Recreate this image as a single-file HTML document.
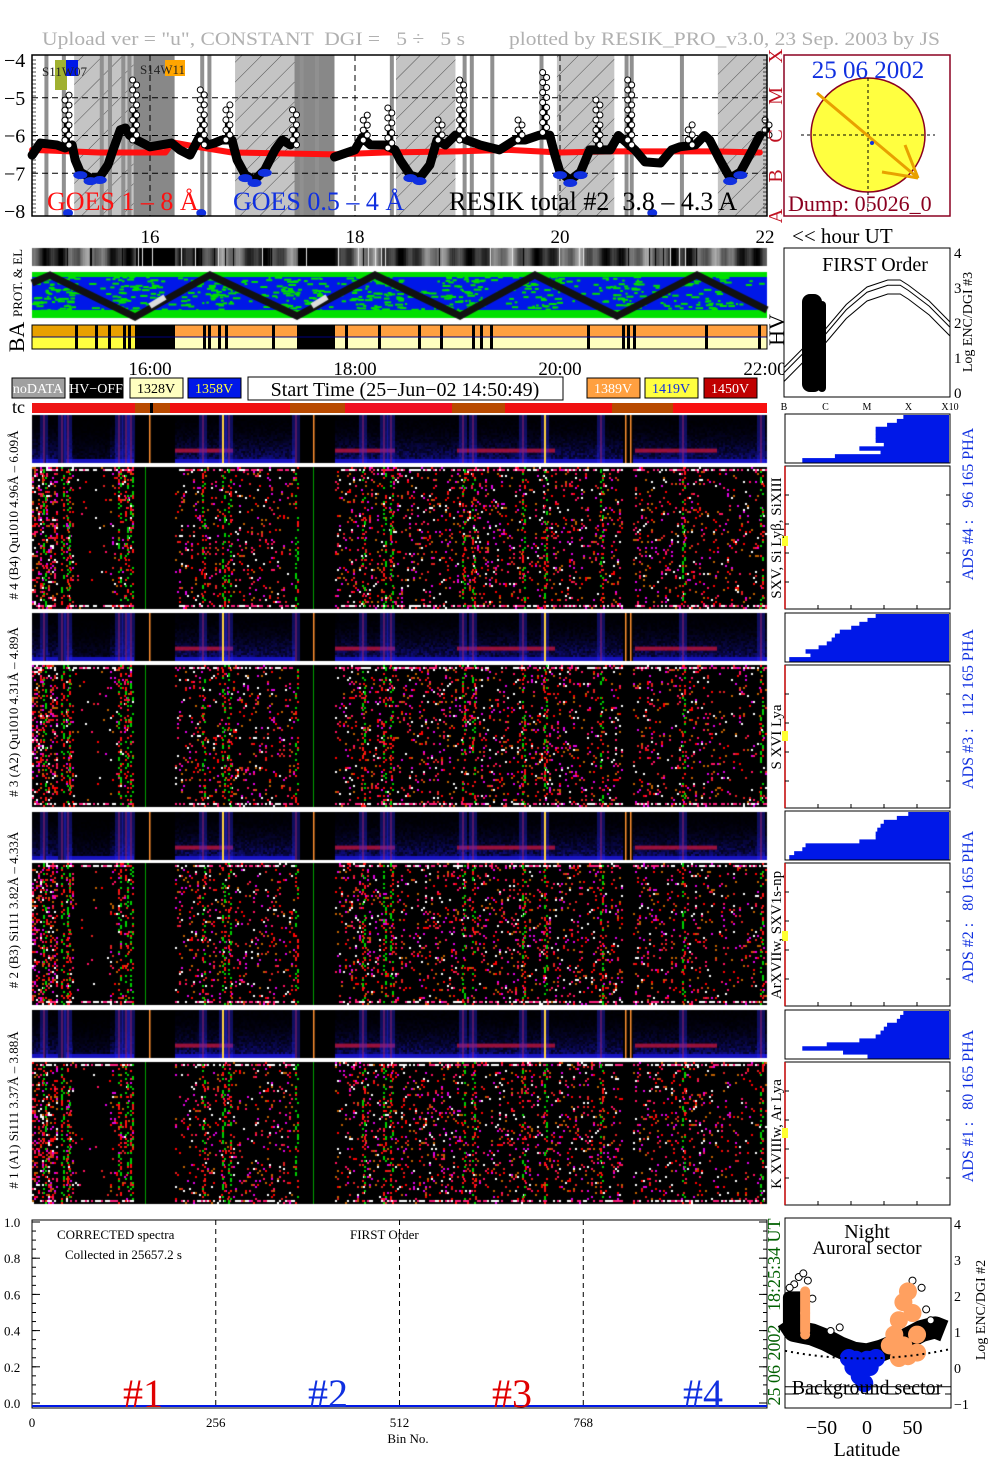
<!DOCTYPE html>
<html><head><meta charset="utf-8">
<style>
html,body{margin:0;padding:0;background:#fff;}
#wrap{position:relative;width:1004px;height:1477px;overflow:hidden;font-family:"Liberation Serif",serif;}
canvas,svg{position:absolute;left:0;top:0;}
svg text{white-space:pre;}
</style></head>
<body>
<div id="wrap">
<canvas id="cv" width="1004" height="1477"></canvas>
<svg id="sv" width="1004" height="1477" xmlns="http://www.w3.org/2000/svg" font-family="Liberation Serif, serif"></svg>
</div>
<script>
// ---------- DATA ----------
const resikTimes=[14.85,14.93,15.09,15.17,15.19,15.24,15.27,15.32,15.42,15.51,15.59,15.64,15.71,15.76,15.80,15.85,15.87,16.0,16.21,16.29,16.39,16.49,16.51,16.56,16.63,16.70,16.76,16.80,16.85,16.93,17.02,17.12,17.22,17.29,17.37,17.41];
const resikVals=[-6.52,-6.20,-6.25,-6.33,-4.93,-6.25,-6.65,-6.97,-7.13,-7.10,-6.78,-6.38,-5.85,-5.80,-5.99,-4.53,-6.12,-6.30,-6.20,-6.38,-6.52,-6.0,-4.79,-6.25,-6.20,-6.12,-5.19,-6.12,-6.65,-7.05,-7.18,-6.91,-6.38,-6.12,-6.25,-5.32];
const resikTimes2=[17.80,18.0,18.07,18.10,18.15,18.29,18.34,18.39,18.44,18.54,18.63,18.73,18.80,18.83,18.88,18.98,19.04,19.09,19.22,19.41,19.56,19.61,19.66,19.80,19.85,19.90,19.95,20.0,20.10,20.20,20.29,20.37,20.41,20.49,20.57,20.68,20.73,20.83,20.98,21.09,21.17,21.27,21.32,21.41,21.46,21.56,21.66,21.76,21.85,21.95,22.02];
const resikVals2=[-6.57,-6.38,-6.05,-5.46,-6.25,-6.25,-5.27,-6.38,-6.65,-7.05,-7.13,-6.78,-6.12,-5.59,-6.25,-5.99,-4.53,-6.12,-6.25,-6.38,-6.12,-5.59,-6.12,-5.99,-4.33,-5.99,-6.52,-6.97,-7.18,-6.97,-6.38,-5.06,-6.38,-6.38,-6.0,-4.53,-6.38,-6.70,-6.73,-6.38,-6.30,-5.72,-6.25,-6.0,-6.12,-6.65,-7.13,-6.97,-6.52,-6.0,-5.59];
const goesTimes=[14.85,15.5,16.15,16.22,16.5,16.8,17.8,18.3,19.0,19.5,20.0,20.5,21.0,21.5,21.95];
const goesVals=[-6.38,-6.45,-6.45,-6.18,-6.32,-6.45,-6.5,-6.45,-6.42,-6.38,-6.45,-6.42,-6.42,-6.42,-6.45];
const hatchStart=[15.26,16.83,18.40,19.97,21.54];
const hatchEnd=[15.84,17.41,18.98,20.53,22.02];
const darkStart=[15.84,17.41];
const darkEnd=[16.24,17.80];
const stripTimes=[14.97,15.14,15.51,15.59,15.72,15.78,16.49,16.56,17.46,17.61,18.34,19.05,19.12,19.32,19.80,20.63,20.68,21.17];
const hourTicks=[16,18,20,22];
const logTicks=[-4,-5,-6,-7,-8];
const classLetters=['A','B','C','M','X'];
const foU=[0,0.5,1,1.5,2,2.5,2.8,3,3.5,4];
const foTop=[0.7,1.3,1.8,2.5,3.0,3.2,3.2,3.05,2.6,2.0];
const foOffsets=[0,-0.15,-0.4];
const pha4=[0.72,0.68,0.62,0.55,0.55,0.55,0.55,0.6,0.45,0.58,0.3,0.1];
const pha3=[0.55,0.5,0.45,0.4,0.33,0.3,0.28,0.25,0.2,0.12,0.15,0.02];
const pha2=[0.75,0.68,0.6,0.58,0.56,0.55,0.55,0.45,0.12,0.1,0.05,0.02];
const pha1=[0.72,0.7,0.68,0.62,0.6,0.58,0.55,0.45,0.25,0.1,0.35,0.5];
const latBlack=[-88,-80,-70,-60,-45,-30,-15,0,15,30,45,60,75,85];
const valBlack=[1.3,1.0,0.95,0.9,0.75,0.55,0.4,0.35,0.45,0.6,0.8,1.0,1.1,1.0];
const latBlue=[-20,-12,-5,0,5,10,-8,-3,-15,3];
const valBlue=[0.25,0.2,0.15,0.2,0.2,0.25,-0.25,-0.45,0.0,0.0];
const latOrange=[-68,-68,-68,25,30,35,40,45,50,55,35,45,55,40];
const valOrange=[2.1,1.5,0.9,0.6,0.9,1.3,1.8,2.1,1.5,0.9,0.25,0.3,0.4,0.6];
const binTicks=[0,256,512,768];
const yTicksSpec=[0,0.2,0.4,0.6,0.8,1.0];

// ---------- helpers ----------
const NS='http://www.w3.org/2000/svg';
const sv=document.getElementById('sv');
function el(tag,attrs,parent,text){const e=document.createElementNS(NS,tag);for(const k in attrs)e.setAttribute(k,attrs[k]);if(text!==undefined)e.textContent=text;(parent||sv).appendChild(e);return e;}
const tx=t=>150+(t-16)*102.5;
const gy=v=>60+(-4-v)*37.75;

// ---------- canvas textures ----------
const cv=document.getElementById('cv');const c=cv.getContext('2d');
let seed=12345;function rnd(){seed=(seed*1103515245+12345)&0x7fffffff;return seed/0x7fffffff;}
const activeRanges=[[32,43,0.3],[46,57,0.3],[66,73,0.18],[73,110,0.015],[110,133,0.1],[175,295,0.09],[335,622,0.11],[633,705,0.1],[705,767,0.07]];
const stripeX=[43,61,67,118,125,130,202,222,228,295,362,383,390,462,472,522,544,600,682,760];
const orangeX=[149,313,625,630];
const redBarRanges=[[175,233],[335,395],[457,555],[635,717]];
function smallPanel(y0,h){
  c.fillStyle='#000';c.fillRect(32,y0,735,h);
  for(const r of activeRanges){
    for(let x=r[0];x<r[1];x+=2){
      for(let y=0;y<h;y+=2){
        const f=y/h;let b=(0.03+0.55*Math.pow(f,2.2))*(0.3+rnd()*0.9)*(r[2]>0.02?1:0.4);
        if(f>0.88)b=0.75;
        c.fillStyle=`rgb(${Math.floor(b*30)},${Math.floor(b*25)},${Math.floor(Math.min(1,b)*255)})`;
        c.fillRect(x,y0+y,2,2);
      }
    }
  }
  for(const r of redBarRanges){c.fillStyle='rgba(190,20,60,0.8)';c.fillRect(r[0],y0+h*0.7,r[1]-r[0],4);}
  for(const x of stripeX){c.fillStyle='rgba(200,30,30,0.55)';c.fillRect(x,y0,2,h);c.fillStyle='rgba(40,40,255,0.35)';c.fillRect(x-3,y0,8,h);}
  for(const x of orangeX){c.fillStyle='#ff9030';c.fillRect(x,y0,1.5,h);}
  c.fillStyle='#ffd040';c.fillRect(222,y0,2,h);c.fillRect(544,y0,2,h);
}
const dotCols=['#ff0000','#ff1060','#e000e0','#ffffff','#e02020','#c06000','#00d000'];
function bigPanel(y0,h){
  c.fillStyle='#000';c.fillRect(32,y0,735,h);
  for(const r of activeRanges){
    for(let x=r[0];x<r[1];x+=2){
      for(let y=0;y<h;y+=2){
        if(rnd()<r[2]){c.fillStyle=dotCols[Math.floor(rnd()*6)];c.fillRect(x,y0+y,2,2);}
      }
    }
    for(let x=r[0];x<r[1];x+=2){if(rnd()<0.6){c.fillStyle=rnd()<0.5?'#ffffff':'#ff2080';c.fillRect(x,y0+h-4,2,2);c.fillRect(x,y0+2,2,2);}}
  }
  for(const x of stripeX){
    for(let y=0;y<h;y+=2){if(rnd()<0.55){c.fillStyle=rnd()<0.5?'#00d000':'#ff1010';c.fillRect(x+(rnd()<0.5?0:2),y0+y,2,2);}}
  }
  c.fillStyle='#00a000';c.fillRect(145,y0,1,h);c.fillRect(313,y0,1,h);
}
const smallY=[415,613,812,1010],bigY=[467,665,863,1062];
smallY.forEach(y=>smallPanel(y,48));
bigY.forEach(y=>bigPanel(y,142));
for(let x=32;x<767;x++){
  let g=Math.floor(70+55*Math.sin(x*0.09)+35*Math.sin(x*0.37+1)+20*rnd());
  if((x>135&&x<175)||(x>297&&x<335))g=0;
  if(rnd()<0.03)g=0;if(rnd()<0.02)g=230;
  g=Math.max(0,Math.min(255,g));
  c.fillStyle=`rgb(${g},${g},${g})`;c.fillRect(x,248,1,18);
}
c.fillStyle='#0018e8';c.fillRect(32,272,735,46);
c.fillStyle='#00e000';c.fillRect(32,272,735,5);c.fillRect(32,310,735,8);
const turnX=[50,135,210,297,375,460,535,617,697];
for(let i=0;i<900;i++){const x=32+rnd()*733,y=276+rnd()*34;let near=999;turnX.forEach(t=>near=Math.min(near,Math.abs(x-t)));if(rnd()<0.3||near<25){c.fillRect(x,y,2+rnd()*6,2);}}
const zz=[[32,283],[50,275],[135,317],[210,275],[297,316],[375,275],[460,316],[535,275],[617,316],[697,275],[767,310]];
c.strokeStyle='#111';c.lineWidth=7;c.beginPath();zz.forEach((p,i)=>i?c.lineTo(p[0],p[1]):c.moveTo(p[0],p[1]));c.stroke();
c.strokeStyle='#ddd';c.lineWidth=6;c.beginPath();c.moveTo(150,306);c.lineTo(165,297);c.moveTo(312,306);c.lineTo(327,297);c.stroke();

// ---------- SVG ----------
el('text',{x:42,y:45,'font-size':19,fill:'#b0b0b0',textLength:423,lengthAdjust:'spacingAndGlyphs',},null,'Upload ver = "u", CONSTANT  DGI =   5 ÷   5 s');
el('text',{x:509,y:45,'font-size':19,fill:'#b0b0b0',textLength:431,lengthAdjust:'spacingAndGlyphs',},null,'plotted by RESIK_PRO_v3.0, 23 Sep. 2003 by JS');

const g1=el('g',{});
const defs=el('defs',{},g1);
const pat=el('pattern',{id:'hatch',width:14,height:14,patternUnits:'userSpaceOnUse',patternTransform:'rotate(45)'},defs);
el('rect',{width:14,height:14,fill:'#c4c4c4'},pat);
el('line',{x1:0,y1:0,x2:0,y2:14,stroke:'#333','stroke-width':0.8},pat);
for(let i=0;i<hatchStart.length;i++){const r=el('rect',{x:tx(hatchStart[i]),y:55,width:tx(hatchEnd[i])-tx(hatchStart[i]),height:161,fill:'url(#hatch)'},g1);}
for(let i=0;i<darkStart.length;i++){const r=el('rect',{x:tx(darkStart[i]),y:55,width:tx(darkEnd[i])-tx(darkStart[i]),height:161,fill:'#888'},g1);}
stripTimes.forEach(t=>{const r=el('rect',{x:tx(t),y:55,width:4,height:161,fill:'#909090'},g1);});
[-5,-6,-7].forEach(v=>el('line',{x1:32,x2:767,y1:gy(v),y2:gy(v),stroke:'#000','stroke-dasharray':'6,4','stroke-width':1},g1));
hourTicks.slice(0,3).forEach(h=>el('line',{x1:tx(h),x2:tx(h),y1:55,y2:216,stroke:'#000','stroke-dasharray':'6,4'},g1));
function poly(ts,vs,col,w,name){const p=el('polyline',{points:ts.map((t,i)=>tx(t)+','+gy(vs[i])).join(' '),fill:'none',stroke:col,'stroke-width':w,'stroke-linejoin':'round','stroke-linecap':'round'},g1);return p;}
poly(goesTimes,goesVals,'#ff1010',6,'goes-1-8-curve');
function resikDraw(ts,vs,name){
  const bt=[],bv=[],peaks=[];
  ts.forEach((t,i)=>{const pv=vs[Math.max(0,i-1)],nv=vs[Math.min(vs.length-1,i+1)];
    if((vs[i]>pv+0.4||i==0)&&(vs[i]>nv+0.4||i==vs.length-1)&&(i>0||vs[i]>nv+0.4)&&(i<vs.length-1||vs[i]>pv+0.4))peaks.push([t,vs[i],Math.min(pv,nv)]);else{bt.push(t);bv.push(vs[i]);}});
  poly(bt,bv,'#000',9,name);
  bt.forEach((t,i)=>{if(bv[i]<-6.9){const d=el('ellipse',{cx:tx(t),cy:gy(bv[i])+3,rx:7,ry:4,fill:'#1030e0'},g1);}});
  peaks.forEach(p=>{const y0=gy(p[2]),y1=gy(p[1]);
    el('rect',{x:tx(p[0])-3,y:y1+(y0-y1)*0.5,width:6,height:(y0-y1)*0.5,fill:'#000'},g1);
    for(let y=y1;y<y0;y+=5){el('circle',{cx:tx(p[0])+((Math.round(y)%2)?2:-2),cy:y,r:3,fill:'#fff',stroke:'#000','stroke-width':1},g1);}});
}
resikDraw(resikTimes,resikVals,'resik-total-curve');
resikDraw(resikTimes2,resikVals2,'resik-total-curve-2');
[15.2,16.5,20.9].forEach(t=>el('ellipse',{cx:tx(t),cy:213,rx:5,ry:4,fill:'#1030e0'},g1));
el('rect',{x:32,y:55,width:735,height:161,fill:'none',stroke:'#000','stroke-width':1.5},g1);
for(let y=60;y<216;y+=4){el('line',{x1:32,x2:36,y1:y,y2:y,stroke:'#000','stroke-width':0.7},g1);el('line',{x1:763,x2:767,y1:y,y2:y,stroke:'#000','stroke-width':0.7},g1);}
logTicks.forEach(v=>el('text',{x:4,y:gy(v)+7,'font-size':20},g1,'−'+(-v)));
el('rect',{x:55,y:60,width:12,height:30,fill:'#a0b030'},g1);
el('rect',{x:66,y:60,width:12,height:16,fill:'#0018e8'},g1);
el('text',{x:42,y:76,'font-size':13,fill:'#222'},g1,'S11W07');
el('rect',{x:165,y:60,width:20,height:16,fill:'#ffa500'},g1);
el('text',{x:140,y:74,'font-size':13,fill:'#222'},g1,'S14W11');
el('text',{x:47,y:210,'font-size':26,fill:'#ff1010',},null,'GOES 1 – 8 Å');
el('text',{x:233,y:210,'font-size':26,fill:'#1030e0',},null,'GOES 0.5 – 4 Å');
el('text',{x:449,y:210,'font-size':26,fill:'#000',},null,'RESIK total #2  3.8 – 4.3 A');
classLetters.forEach((l,i)=>el('text',{x:0,y:0,'font-size':20,fill:'#c01020',transform:`translate(${782},${216-i*40}) rotate(-90)`,'text-anchor':'middle'},null,l));
hourTicks.forEach(h=>el('text',{x:tx(h),y:243,'font-size':19,'text-anchor':'middle',},null,String(h)));
el('text',{x:792,y:243,'font-size':21,},null,'<< hour UT');

const gs=el('g',{});
el('rect',{x:784,y:55,width:166,height:161,fill:'#fff',stroke:'#8b0020','stroke-width':1.5},gs);
el('circle',{cx:868,cy:135,r:57,fill:'#ffff40',stroke:'#8b0020','stroke-width':1.5},gs);
el('line',{x1:801,x2:935,y1:135,y2:135,stroke:'#000','stroke-dasharray':'3,3'},gs);
el('line',{x1:868,x2:868,y1:78,y2:212,stroke:'#000','stroke-dasharray':'3,3'},gs);
el('polyline',{points:'817,93 918,178 905,145',fill:'none',stroke:'#e8a000','stroke-width':3},gs);
el('line',{x1:918,y1:178,x2:882,y2:172,stroke:'#e8a000','stroke-width':3},gs);
el('circle',{cx:872,cy:143,r:2,fill:'#1030e0'},gs);
el('text',{x:868,y:78,'font-size':25,fill:'#1030e0','text-anchor':'middle'},gs,'25 06 2002');
el('text',{x:788,y:211,'font-size':22,fill:'#8b0020'},gs,'Dump: 05026_0');

function rlabel(x,y,txt,size,col,name){const t=el('text',{x:0,y:0,'font-size':size,fill:col||'#000','text-anchor':'middle',transform:`translate(${x},${y}) rotate(-90)`},null,txt);return t;}
rlabel(22,283,'PROT. & EL',13,'#000','prot-el-label');
rlabel(24,337,'BA',22,'#000','ba-label');
rlabel(784,330,'HV',22,'#000','hv-label');

const gb=el('g',{});
const baStart=[32,135,175,297,335];
const baEnd=[135,175,297,335,767];
const baTop=['#e8a000','#000','#ffa040','#000','#ffa040'];
const baBot=['#ffff40','#000','#ffffc0','#000','#ffffc0'];
baStart.forEach((s,i)=>{el('rect',{x:s,y:325,width:baEnd[i]-s,height:12,fill:baTop[i]},gb);el('rect',{x:s,y:337,width:baEnd[i]-s,height:12,fill:baBot[i]},gb);});
[75,95,108,123,128,140,203,208,218,225,272,345,378,418,440,472,480,490,587,622,627,633,705,758].forEach(x=>el('rect',{x:x,y:325,width:3,height:24,fill:'#000'},gb));
el('line',{x1:32,x2:767,y1:337,y2:337,stroke:'#000080','stroke-width':1},gb);
el('rect',{x:32,y:325,width:735,height:24,fill:'none',stroke:'#000'},gb);
['16:00','18:00','20:00','22:00'].forEach((s,i)=>el('text',{x:tx(16+2*i),y:375,'font-size':19,'text-anchor':'middle'},null,s));

const leg=[[12,'#a0a0a0','#fff','noDATA'],[70,'#000','#fff','HV−OFF'],[130,'#ffffc0','#000','1328V'],[188,'#0018e8','#ffff40','1358V'],[587,'#ffa040','#fff','1389V'],[645,'#ffff40','#1030e0','1419V'],[704,'#c00000','#fff','1450V']];
leg.forEach(l=>{const g=el('g',{});el('rect',{x:l[0],y:378,width:53,height:20,fill:l[1],stroke:'#000'},g);el('text',{x:l[0]+26,y:393,'font-size':14,fill:l[2],'text-anchor':'middle'},g,l[3]);});
el('rect',{x:248,y:377,width:315,height:23,fill:'#fff',stroke:'#000',});
el('text',{x:405,y:396,'font-size':20,'text-anchor':'middle',},null,'Start Time (25−Jun−02 14:50:49)');

el('text',{x:12,y:413,'font-size':18,},null,'tc');
const tcS=[32,135,150,153,170,290,345,452,505,612,673];
const tcE=[135,150,153,170,290,345,452,505,612,673,767];
const tcC=['#ee1515','#b84a00','#000','#b84a00','#f01010','#b84a00','#f01020','#b84a00','#f01010','#b84a00','#f81010'];
tcS.forEach((s,i)=>el('rect',{x:s,y:403,width:tcE[i]-s,height:10,fill:tcC[i]}));

rlabel(18,515,'# 4 (B4) Qu1010 4.96Å – 6.09Å',13,'#000','detector-4-label');
rlabel(18,712,'# 3 (A2) Qu1010 4.31Å – 4.89Å',13,'#000','detector-3-label');
rlabel(18,910,'# 2 (B3) Si111 3.82Å – 4.33Å',13,'#000','detector-2-label');
rlabel(18,1110,'# 1 (A1) Si111 3.37Å – 3.88Å',13,'#000','detector-1-label');

const gf=el('g',{});
const fx=u=>784+u*41.5, fy=v=>392-v*35;
el('rect',{x:784,y:248,width:166,height:149,fill:'#fff',stroke:'#000'},gf);
foOffsets.forEach(o=>el('polyline',{points:foU.map((u,i)=>fx(u)+','+fy(foTop[i]+o)).join(' '),fill:'none',stroke:'#000','stroke-width':1},gf));
el('rect',{x:802,y:fy(2.8),width:20,height:392-fy(2.8),rx:8,fill:'#000'},gf);
el('rect',{x:818,y:fy(2.6),width:8,height:392-fy(2.6),rx:4,fill:'#000'},gf);
el('text',{x:875,y:271,'font-size':20,'text-anchor':'middle'},gf,'FIRST Order');
[0,1,2,3,4].forEach(v=>el('text',{x:954,y:fy(v)+6,'font-size':15},gf,String(v)));
['B','C','M','X','X10'].forEach((s,i)=>el('text',{x:fx(i),y:410,'font-size':10,'text-anchor':'middle'},gf,s));
rlabel(972,322,'Log ENC/DGI #3',14,'#000','first-order-y-title');

const phaY=[414,613,811,1010];
const phaData=[pha4,pha3,pha2,pha1];
const lineLbl=['SXV, Si Lyβ, SiXIII','S XVI Lya','ArXVIIw, SXV1s-np','K XVIIIw, Ar Lya'];
const adsLbl=['ADS #4 :   96 165 PHA','ADS #3 :   112 165 PHA','ADS #2 :   80 165 PHA','ADS #1 :   80 165 PHA'];
const bigRY=[466,665,863,1062];
phaY.forEach((y0,k)=>{
  const g=el('g',{});
  el('rect',{x:785,y:y0,width:165,height:49,fill:'#fff',stroke:'#000'},g);
  const d=phaData[k];const rh=47/d.length;
  d.forEach((f,i)=>el('rect',{x:786+f*163,y:y0+1+i*rh,width:163-f*163,height:rh+0.5,fill:'#0018e8'},g));
  const g2=el('g',{});
  el('rect',{x:785,y:bigRY[k],width:165,height:143,fill:'#fff',stroke:'#000'},g2);
  el('line',{x1:785,x2:785,y1:bigRY[k],y2:bigRY[k]+143,stroke:'#c00000','stroke-width':1.5},g2);
  for(let i=1;i<5;i++){el('line',{x1:785,x2:789,y1:bigRY[k]+i*29,y2:bigRY[k]+i*29,stroke:'#000'},g2);el('line',{x1:946,x2:950,y1:bigRY[k]+i*29,y2:bigRY[k]+i*29,stroke:'#000'},g2);el('line',{x1:785+i*33,x2:785+i*33,y1:bigRY[k]+139,y2:bigRY[k]+143,stroke:'#000'},g2);}
  el('rect',{x:782,y:bigRY[k]+[70,66,68,66][k],width:6,height:10,fill:'#ffff30'},g2);
  rlabel(781,bigRY[k]+72,lineLbl[k],15,'#000','line-id-label-'+(4-k));
  rlabel(973,y0+[90,96,96,96][k],adsLbl[k],16,'#1030e0','ads-label-'+(4-k));
});

const gp=el('g',{});
const bx=b=>32+b*0.7178, by=v=>1403-v*181;
el('rect',{x:32,y:1220,width:735,height:188,fill:'#fff',stroke:'#000'},gp);
binTicks.slice(1).forEach(b=>el('line',{x1:bx(b),x2:bx(b),y1:1220,y2:1408,stroke:'#000','stroke-dasharray':'5,4'},gp));
binTicks.forEach(b=>el('text',{x:bx(b),y:1427,'font-size':13,'text-anchor':'middle'},gp,String(b)));
yTicksSpec.forEach(v=>{el('text',{x:4,y:by(v)+5,'font-size':13},gp,v.toFixed(1));el('line',{x1:32,x2:40,y1:by(v),y2:by(v),stroke:'#000'},gp);el('line',{x1:759,x2:767,y1:by(v),y2:by(v),stroke:'#000'},gp);});
for(let v=0.05;v<1;v+=0.05){el('line',{x1:32,x2:36,y1:by(v),y2:by(v),stroke:'#000'},gp);el('line',{x1:763,x2:767,y1:by(v),y2:by(v),stroke:'#000'},gp);}
el('line',{x1:32,x2:767,y1:1406,y2:1406,stroke:'#0018e8','stroke-width':2},gp);
el('text',{x:57,y:1239,'font-size':13},gp,'CORRECTED spectra');
el('text',{x:65,y:1259,'font-size':13},gp,'Collected in 25657.2 s');
el('text',{x:350,y:1239,'font-size':13},gp,'FIRST Order');
el('text',{x:408,y:1443,'font-size':13,'text-anchor':'middle'},gp,'Bin No.');
[['#1',143,'#e00000'],['#2',328,'#1030e0'],['#3',512,'#e00000'],['#4',703,'#1030e0']].forEach(a=>el('text',{x:a[1],y:1407,'font-size':40,fill:a[2],'text-anchor':'middle'},gp,a[0]));
rlabel(780,1312,'25 06 2002   18:25:34 UT',18,'#006000','date-time-stamp');

const gl=el('g',{});
const lx=l=>867+l*0.91, ly=v=>1367-v*36;
el('rect',{x:785,y:1218,width:166,height:190,fill:'#fff',stroke:'#000'},gl);
el('text',{x:867,y:1238,'font-size':20,'text-anchor':'middle'},gl,'Night');
el('text',{x:867,y:1254,'font-size':19,'text-anchor':'middle'},gl,'Auroral sector');
el('polyline',{points:latBlack.map((l,i)=>lx(l)+','+ly(valBlack[i])).join(' '),fill:'none',stroke:'#000','stroke-width':22,'stroke-linejoin':'round'},gl);
el('rect',{x:lx(-88)-4,y:ly(2.1),width:26,height:ly(0.8)-ly(2.1),rx:6,fill:'#000'},gl);
[[-80,2.3],[-75,2.5],[-70,2.6],[-65,2.4],[-85,2.2],[-60,1.9],[50,2.4],[60,2.2],[65,1.6],[70,1.3],[-40,1.0],[-30,1.1]].forEach(p=>el('circle',{cx:lx(p[0]),cy:ly(p[1]),r:3.5,fill:'#fff',stroke:'#000'},gl));
latBlue.forEach((l,i)=>el('circle',{cx:lx(l),cy:ly(valBlue[i]),r:9,fill:'#0018e8'},gl));
latOrange.forEach((l,i)=>el('circle',{cx:lx(l),cy:ly(valOrange[i]),r:l<0?5:9,fill:'#ffa060'},gl));
el('rect',{x:lx(-68)-5,y:ly(2.2),width:10,height:ly(0.85)-ly(2.2),rx:5,fill:'#ffa060'},gl);
el('path',{d:`M${lx(-90)},${ly(0.45)} Q${lx(0)},${ly(0.0)} ${lx(92)},${ly(0.5)}`,fill:'none',stroke:'#000','stroke-dasharray':'2,4','stroke-width':2},gl);
el('line',{x1:785,x2:951,y1:ly(-0.75),y2:ly(-0.75),stroke:'#000','stroke-dasharray':'14,6'},gl);
el('line',{x1:785,x2:951,y1:ly(-0.55),y2:ly(-0.55),stroke:'#000'},gl);
el('text',{x:867,y:1394,'font-size':20,'text-anchor':'middle'},gl,'Background sector');
[4,3,2,1,0,-1].forEach(v=>el('text',{x:954,y:ly(v)+6,'font-size':14},gl,v<0?'−1':String(v)));
[[-50,'−50'],[0,'0'],[50,'50']].forEach(a=>el('text',{x:lx(a[0]),y:1434,'font-size':20,'text-anchor':'middle'},gl,a[1]));
el('text',{x:867,y:1456,'font-size':20,'text-anchor':'middle'},gl,'Latitude');
rlabel(985,1310,'Log ENC/DGI #2',14,'#000','latitude-y-title');
</script>
</body></html>
